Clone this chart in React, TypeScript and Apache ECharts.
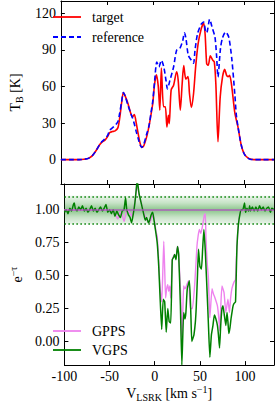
import React, { useEffect, useRef } from "react";
import * as echarts from "echarts";

// ---------- data ----------
const targetTB: number[][] = [
  [-100, 0], [-90, 0], [-80, 0], [-75, 0.3], [-70, 1], [-66, 3], [-62, 7], [-58, 12], [-55, 14.5], [-52, 16],
  [-49, 19], [-47, 22], [-44, 23], [-41, 23.5], [-38, 26], [-36, 34], [-34, 46], [-32, 55], [-30, 52], [-27, 46],
  [-24, 38], [-22, 35], [-20, 37], [-18, 30], [-16, 21.7], [-14, 14], [-12, 10], [-10, 11], [-7, 17.6], [-5, 24],
  [-3, 32], [0, 46], [2, 62], [4, 69.5], [6, 60], [7.7, 40.5], [9.4, 75], [11.7, 43.3], [13.7, 43.3], [15.4, 26.8],
  [17, 36.3], [18, 29.5], [20, 57], [22.7, 61], [26, 72], [27.7, 65], [30, 40.5], [32, 62], [33.7, 77], [36, 66],
  [38.4, 68], [40, 54], [42, 42.7], [44.4, 54], [46.7, 76], [49.4, 95], [52.7, 107], [55.4, 112], [57, 103], [58.7, 78.7],
  [60.4, 77.3], [62.7, 85], [65.4, 81.4], [67, 80], [68.7, 62], [71, 14.6], [73.4, 51], [76, 68], [78.4, 74], [80.4, 69],
  [82, 68], [83.7, 69], [86, 60], [89.4, 38], [92.7, 27], [96, 13], [99.4, 5], [104.4, 1], [110, 0], [120, 0], [132, 0],
];

const referenceTB: number[][] = [
  [-100, 0], [-90, 0], [-80, 0], [-75, 0.3], [-70, 1], [-66, 3], [-62, 7], [-58, 12], [-55, 15], [-52, 17],
  [-49, 20], [-47, 24], [-44, 26], [-41, 28], [-38, 31], [-36, 38], [-34, 47], [-32, 55], [-30, 52], [-27, 44.6],
  [-24, 38], [-22, 34], [-20, 29], [-18, 23], [-16, 17.6], [-14, 12.5], [-12, 10], [-10, 12], [-7, 20], [-4, 28],
  [-2, 38], [0, 48], [2, 64], [4.4, 80], [6.7, 76], [9.4, 81.4], [12, 76], [14.4, 65], [16, 58], [18.7, 65],
  [22.7, 76], [26, 89.6], [29.4, 91], [32.7, 97.7], [34.4, 104], [36, 100], [38.7, 85.5], [42, 81.4], [44.4, 79], [46, 89.6],
  [48.7, 103], [52.7, 111], [55.4, 112.8], [57.5, 105], [58.7, 104], [62, 115], [64.4, 109], [67.7, 100.5], [69.5, 85], [71, 67.7],
  [73.7, 91], [76, 100], [79.4, 104.6], [82.7, 100.5], [86, 83], [89.4, 53], [91, 36.4], [93, 26], [95, 17], [97, 10],
  [100, 4], [103, 1.5], [106, 0.3], [110, 0], [120, 0], [132, 0],
];

const gppsTau: number[][] = [
  [-100, 1.0], [-90, 1.0], [-80, 1.0], [-70, 1.0], [-60, 1.0], [-52, 1.0], [-48, 0.99], [-44, 0.97], [-41, 0.93], [-38, 0.98],
  [-36, 0.96], [-34, 0.91], [-32, 0.97], [-30, 1.0], [-27, 0.97], [-25.5, 0.95], [-23.5, 1.0], [-22, 1.06], [-20.5, 1.15], [-19.6, 1.2],
  [-18.5, 1.16], [-17.3, 1.11], [-15.6, 1.07], [-12.3, 0.98], [-9, 0.925], [-5.6, 0.9], [-3.5, 0.94], [-2, 0.96], [0, 0.9], [1.5, 0.83],
  [2.7, 0.8], [4.5, 0.6], [6, 0.4], [7.7, 0.3], [8.8, 0.5], [10, 0.76], [11, 0.55], [12, 0.33], [13.2, 0.4], [14.4, 0.43],
  [15.5, 0.38], [16.7, 0.42], [17.7, 0.33], [19.4, 0.62], [21, 0.65], [22, 0.66], [23.5, 0.63], [25.2, 0.72], [26.5, 0.66], [28.7, 0.35],
  [30, 0.0], [31, 0.2], [32, 0.42], [33.2, 0.4], [34.4, 0.41], [36, 0.44], [37.7, 0.46], [39.4, 0.25], [41.7, 0.25], [44.4, 0.45],
  [46.7, 0.72], [48, 0.8], [49.4, 0.85], [51, 0.82], [52.7, 0.87], [55, 0.96], [56, 0.97], [56.7, 0.78], [58, 0.6], [59.4, 0.48],
  [61, 0.18], [63.4, 0.4], [65, 0.36], [66.7, 0.33], [69.4, 0.27], [71, 0.17], [72, 0.08], [73, 0.25], [74.4, 0.42], [76.7, 0.37],
  [78.7, 0.22], [81, 0.32], [82.7, 0.22], [84, 0.33], [85.4, 0.4], [87.7, 0.45], [89.4, 0.47], [90.2, 0.6], [91, 0.72], [92.7, 0.9],
  [94.4, 0.97], [97.7, 1.0], [105, 1.0], [115, 1.0], [132, 1.0],
];

const vgpsTau: number[][] = [
  [-100, 0.98], [-98, 1.0], [-96, 0.97], [-94, 1.01], [-92, 0.99], [-90, 1.04], [-89, 1.05], [-88, 1.01], [-86, 0.99], [-84, 1.02],
  [-82, 1.0], [-80, 1.03], [-78, 0.99], [-76, 1.01], [-74, 0.98], [-72, 1.0], [-70, 1.03], [-68, 0.99], [-66, 1.01], [-64, 0.98],
  [-62, 1.0], [-60, 1.02], [-58, 0.99], [-56, 1.01], [-54, 1.04], [-52, 0.98], [-50, 1.0], [-48, 0.97], [-46, 1.0], [-44, 0.95],
  [-42, 0.99], [-40, 0.96], [-38, 0.94], [-36, 0.99], [-34, 1.0], [-32.3, 1.09], [-31, 1.0], [-29, 0.96], [-27.3, 0.94], [-25.6, 0.9],
  [-23.5, 0.98], [-22, 1.05], [-20.5, 1.15], [-19.6, 1.22], [-18.5, 1.18], [-17.3, 1.12], [-15, 1.05], [-12.3, 0.97], [-10.5, 0.92], [-9, 0.94],
  [-7, 0.9], [-5.6, 0.92], [-4, 0.96], [-2.3, 0.98], [-1, 0.93], [0.5, 0.86], [2.7, 0.75], [4.4, 0.57], [6, 0.32], [7.7, 0.09],
  [9.4, 0.32], [11, 0.3], [12.7, 0.07], [14.4, 0.25], [16, 0.15], [17.7, 0.14], [19.4, 0.62], [21, 0.64], [22, 0.66], [23.5, 0.62],
  [25.2, 0.72], [26.5, 0.66], [28.4, 0.27], [30, -0.18], [32, 0.22], [33.4, 0.17], [34.5, 0.22], [36, 0.4], [38.4, 0.46], [40, 0.2],
  [41, 0.0], [42.5, 0.03], [43.4, 0.05], [45, 0.15], [46, 0.27], [47.3, 0.5], [48.4, 0.7], [50, 0.57], [51.7, 0.55], [53, 0.7],
  [54.4, 0.85], [56, 0.68], [58.4, 0.3], [59.4, 0.13], [61, -0.12], [62.7, 0.05], [64.4, 0.12], [66, 0.2], [67.7, 0.17], [69.4, 0.12],
  [70.5, 0.05], [71.7, -0.05], [73, 0.12], [74.4, 0.25], [75.5, 0.27], [77, 0.2], [78.7, 0.12], [80, 0.22], [81, 0.15], [82, 0.06],
  [83.2, 0.1], [84.4, 0.17], [85.5, 0.22], [86.7, 0.27], [88, 0.29], [89.4, 0.3], [90.2, 0.5], [91, 0.72], [92.5, 0.88], [94.4, 0.97],
  [96, 1.0], [97.5, 1.0], [99.4, 1.05], [100.5, 0.98], [102, 1.01], [104, 0.99], [105, 1.03], [106, 0.99], [108, 1.02], [110, 0.99],
  [112, 1.02], [114, 0.99], [116, 1.03], [118, 1.0], [120, 1.02], [122, 0.99], [124, 1.01], [126, 1.02], [128, 0.98], [129.5, 1.01],
  [132, 1.0],
];

const xTicks = [-100, -50, 0, 50, 100];
const tbTicks = [0, 30, 60, 90, 120];
const tauTicks = [0, 0.25, 0.5, 0.75, 1.0];
const bandTop = 1.105;
const bandBottom = 0.89;

// ---------- styling ----------
const FONT = "Liberation Serif";
const FS = 14;
const X_MIN = -100;
const X_MAX = 132;

const richText = {
  a: { fontFamily: FONT, fontSize: FS, color: "#000", lineHeight: 18, verticalAlign: "middle" },
  sub: { fontFamily: FONT, fontSize: 10, color: "#000", lineHeight: 10, verticalAlign: "bottom" },
  sup: { fontFamily: FONT, fontSize: 10, color: "#000", lineHeight: 10, verticalAlign: "top" },
};

function xAxisDef(gridIndex: number, position: "top" | "bottom", labels: boolean, extra: any = {}) {
  return {
    type: "value",
    gridIndex,
    position,
    min: X_MIN,
    max: X_MAX,
    interval: 50,
    axisLine: { show: true, onZero: false, lineStyle: { color: "#000", width: 1 } },
    axisTick: { show: true, inside: true, length: 4, lineStyle: { color: "#000" }, customValues: xTicks },
    axisLabel: {
      show: labels,
      customValues: xTicks,
      fontFamily: FONT,
      fontSize: FS,
      color: "#000",
      margin: 4,
    },
    splitLine: { show: false },
    ...extra,
  };
}

function yAxisDef(gridIndex: number, position: "left" | "right", min: number, max: number, ticks: number[], labels: boolean, fmt?: (v: number) => string, extra: any = {}) {
  return {
    type: "value",
    gridIndex,
    position,
    min,
    max,
    axisLine: { show: true, onZero: false, lineStyle: { color: "#000", width: 1 } },
    axisTick: { show: true, inside: true, length: 4, lineStyle: { color: "#000" }, customValues: ticks },
    axisLabel: {
      show: labels,
      customValues: ticks,
      fontFamily: FONT,
      fontSize: FS,
      color: "#000",
      margin: 5,
      formatter: fmt,
    },
    splitLine: { show: false },
    ...extra,
  };
}

function legendItem(y: number, color: string, label: string, dash?: number[], width = 1.8) {
  return [
    {
      type: "line",
      shape: { x1: 53, y1: y, x2: 81, y2: y },
      style: { stroke: color, lineWidth: width, lineDash: dash },
      z: 100,
    },
    {
      type: "text",
      x: 92,
      y,
      style: { text: label, fontFamily: FONT, fontSize: FS, fill: "#000", verticalAlign: "middle", align: "left" },
      z: 100,
    },
  ];
}

export default function App() {
  const ref = useRef<HTMLDivElement>(null);

  useEffect(() => {
    if (!ref.current) return;
    const chart = echarts.init(ref.current, undefined, { renderer: "svg" });

    const band = new echarts.graphic.LinearGradient(0, 0, 0, 1, [
      { offset: 0, color: "rgba(0,128,0,0.08)" },
      { offset: 0.25, color: "rgba(0,128,0,0.22)" },
      { offset: 0.5, color: "rgba(0,128,0,0.45)" },
      { offset: 0.75, color: "rgba(0,128,0,0.22)" },
      { offset: 1, color: "rgba(0,128,0,0.08)" },
    ]);

    const option: any = {
      animation: false,
      backgroundColor: "#fff",
      textStyle: { fontFamily: FONT },
      grid: [
        { left: 42, top: 1, width: 232, height: 183, containLabel: false },
        { left: 42, top: 184, width: 232, height: 183.3, containLabel: false },
      ],
      xAxis: [
        xAxisDef(0, "bottom", false),
        xAxisDef(0, "top", false),
        xAxisDef(1, "bottom", true, {
          name: "{a|V}{sub|LSRK}{a| [km s}{sup|−1}{a|]}",
          nameLocation: "middle",
          nameGap: 17,
          nameTextStyle: { rich: richText, fontFamily: FONT },
        }),
        xAxisDef(1, "top", false),
      ],
      yAxis: [
        yAxisDef(0, "left", -20, 130, tbTicks, true, (v: number) => String(v), {
          name: "{a|T}{sub|B}{a| [K]}",
          nameLocation: "middle",
          nameRotate: 90,
          nameGap: 28,
          nameTextStyle: { rich: richText, fontFamily: FONT },
        }),
        yAxisDef(0, "right", -20, 130, tbTicks, false),
        yAxisDef(1, "left", -0.18, 1.195, tauTicks, true, (v: number) => v.toFixed(2), {
          name: "{a|e}{sup|−τ}",
          nameLocation: "middle",
          nameRotate: 90,
          nameGap: 30,
          nameTextStyle: { rich: richText, fontFamily: FONT },
        }),
        yAxisDef(1, "right", -0.18, 1.195, tauTicks, false),
      ],
      series: [
        {
          name: "target",
          type: "line",
          xAxisIndex: 0,
          yAxisIndex: 0,
          data: targetTB,
          showSymbol: false,
          smooth: 0.25,
          lineStyle: { color: "#ff0000", width: 1.6 },
          z: 3,
        },
        {
          name: "reference",
          type: "line",
          xAxisIndex: 0,
          yAxisIndex: 0,
          data: referenceTB,
          showSymbol: false,
          smooth: 0.25,
          lineStyle: { color: "#0000ff", width: 1.6, type: [5, 3] },
          z: 4,
        },
        {
          name: "GPPS",
          type: "line",
          xAxisIndex: 2,
          yAxisIndex: 2,
          data: gppsTau,
          showSymbol: false,
          smooth: 0.15,
          lineStyle: { color: "#ee82ee", width: 1.4 },
          z: 3,
          markArea: {
            silent: true,
            itemStyle: { color: band },
            data: [[{ yAxis: bandTop }, { yAxis: bandBottom }]],
          },
          markLine: {
            silent: true,
            symbol: ["none", "none"],
            label: { show: false },
            data: [
              { yAxis: bandTop, lineStyle: { color: "#008000", type: [1.5, 2.5], width: 1.5 } },
              { yAxis: bandBottom, lineStyle: { color: "#008000", type: [1.5, 2.5], width: 1.5 } },
              { yAxis: 1.0, lineStyle: { color: "#b050c0", type: "solid", width: 1.5, opacity: 0.85 } },
            ],
          },
        },
        {
          name: "VGPS",
          type: "line",
          xAxisIndex: 2,
          yAxisIndex: 2,
          data: vgpsTau,
          showSymbol: false,
          smooth: 0.15,
          lineStyle: { color: "#008000", width: 1.5 },
          z: 4,
        },
      ],
      graphic: [
        ...legendItem(17, "#ff0000", "target"),
        ...legendItem(37, "#0000ff", "reference", [5, 3]),
        ...legendItem(331, "#ee82ee", "GPPS"),
        ...legendItem(350, "#008000", "VGPS"),
      ],
    };

    chart.setOption(option);
    return () => chart.dispose();
  }, []);

  return (
    <div
      ref={ref}
      style={{ position: "fixed", left: 0, top: 0, width: 275, height: 403 }}
    />
  );
}
